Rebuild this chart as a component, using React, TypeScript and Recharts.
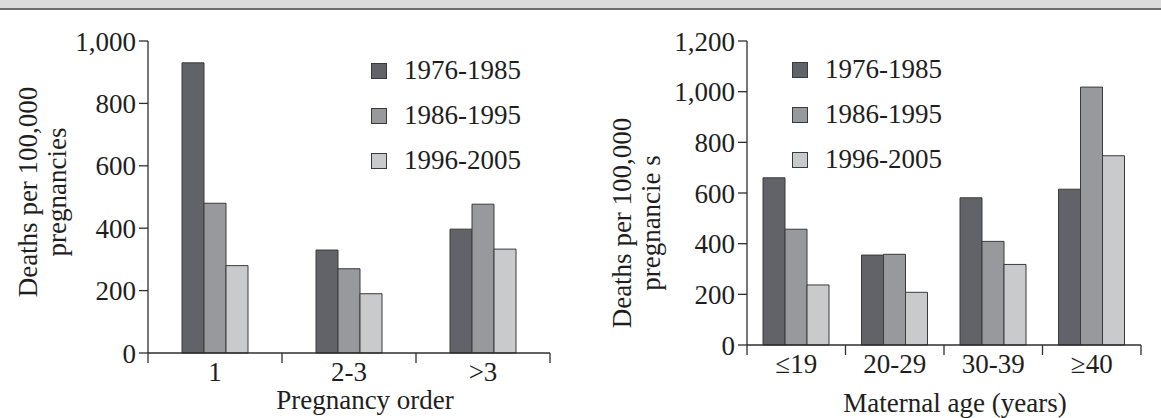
import { Bar, BarChart, XAxis, YAxis } from "recharts";

const orderCategories = ["1", "2-3", ">3"];
const order1976 = [930, 330, 397];
const order1986 = [480, 270, 477];
const order1996 = [280, 190, 333];
const orderTicks = [0, 200, 400, 600, 800, 1000];

const ageCategories = ["≤19", "20-29", "30-39", "≥40"];
const age1976 = [660, 355, 581, 615];
const age1986 = [457, 358, 409, 1018];
const age1996 = [237, 208, 318, 747];
const ageTicks = [0, 200, 400, 600, 800, 1000, 1200];

const periods = ["1976-1985", "1986-1995", "1996-2005"];
const fills = ["#626368", "#98999d", "#c9cacc"];

const FONT = '"Liberation Serif", "Times New Roman", serif';
const INK = "#1e1e1e";
const LINE = "#2e2e2e";

const fmt = (v: number) => v.toLocaleString("en-US");

function buildRows(cats: string[], a: number[], b: number[], c: number[]) {
  return cats.map((name, i) => ({ name, p1: a[i], p2: b[i], p3: c[i] }));
}

const orderData = buildRows(orderCategories, order1976, order1986, order1996);
const ageData = buildRows(ageCategories, age1976, age1986, age1996);

// category ticks sit on the band edges, labels in the middle
function makeBandTick(band: number, count: number, baseline: number) {
  return function BandTick(props: any) {
    const { x, y, payload, index } = props;
    const left = x - band / 2;
    const right = x + band / 2;
    return (
      <g>
        <line x1={left} x2={left} y1={y} y2={y + 10} stroke={LINE} strokeWidth={1.3} />
        {index === count - 1 && (
          <line x1={right} x2={right} y1={y} y2={y + 10} stroke={LINE} strokeWidth={1.3} />
        )}
        <text x={x} y={y + baseline} textAnchor="middle" fontFamily={FONT} fontSize={27} fill={INK}>
          {payload.value}
        </text>
      </g>
    );
  };
}

function PeriodLegend({ left, top }: { left: number; top: number }) {
  return (
    <div style={{ position: "absolute", left, top, fontFamily: FONT, fontSize: 27, color: INK }}>
      {periods.map((p, i) => (
        <div key={p} style={{ display: "flex", alignItems: "center", height: 45 }}>
          <span
            style={{
              width: 14,
              height: 14,
              background: fills[i],
              border: "1px solid #3a3a3a",
              marginRight: 17,
              display: "inline-block",
            }}
          />
          <span style={{ lineHeight: "27px" }}>{p}</span>
        </div>
      ))}
    </div>
  );
}

function YLabel({ x1, x2, cy, lines }: { x1: number; x2: number; cy: number; lines: string[] }) {
  return (
    <g fontFamily={FONT} fontSize={27} fill={INK}>
      <text transform={`translate(${x1},${cy}) rotate(-90)`} textAnchor="middle">
        {lines[0]}
      </text>
      <text transform={`translate(${x2},${cy}) rotate(-90)`} textAnchor="middle">
        {lines[1]}
      </text>
    </g>
  );
}

function XLabel({ cx, y, text }: { cx: number; y: number; text: string }) {
  return (
    <text x={cx} y={y} textAnchor="middle" fontFamily={FONT} fontSize={27} fill={INK}>
      {text}
    </text>
  );
}

type PanelProps = {
  left: number;
  width: number;
  data: { name: string; p1: number; p2: number; p3: number }[];
  ticks: number[];
  plotLeft: number;
  plotRight: number;
  plotBottom: number;
  tickBaseline: number;
  legendLeft: number;
  legendTop: number;
  yLabel: { x1: number; x2: number; cy: number; lines: string[] };
  xLabel: { cx: number; y: number; text: string };
};

function Panel(p: PanelProps) {
  const height = 418;
  const top = 41;
  const plotW = p.width - p.plotLeft - p.plotRight;
  const bandW = plotW / p.data.length;
  const Tick = makeBandTick(bandW, p.data.length, p.tickBaseline);
  const max = p.ticks[p.ticks.length - 1];
  return (
    <div style={{ position: "absolute", left: p.left, top: 0, width: p.width, height }}>
      <BarChart
        width={p.width}
        height={height}
        data={p.data}
        margin={{ top, right: p.plotRight, bottom: 0, left: 0 }}
        barGap={0}
        barSize={22}
      >
        <XAxis
          dataKey="name"
          height={height - p.plotBottom}
          tickLine={false}
          tickSize={0}
          tickMargin={0}
          interval={0}
          axisLine={{ stroke: LINE, strokeWidth: 1.3 }}
          tick={<Tick />}
          label={{ content: () => <XLabel {...p.xLabel} /> }}
        />
        <XAxis
          xAxisId="top"
          dataKey="name"
          orientation="top"
          height={0}
          tick={false}
          tickLine={false}
          axisLine={{ stroke: LINE, strokeWidth: 1.3 }}
        />
        <YAxis
          width={p.plotLeft}
          domain={[0, max]}
          ticks={p.ticks}
          interval={0}
          tickFormatter={fmt}
          tickSize={9}
          tickMargin={3}
          tickLine={{ stroke: LINE, strokeWidth: 1.3 }}
          axisLine={{ stroke: LINE, strokeWidth: 1.3 }}
          tick={{ fontFamily: FONT, fontSize: 27, fill: INK }}
          label={{ content: () => <YLabel {...p.yLabel} /> }}
        />
        <YAxis
          yAxisId="right"
          orientation="right"
          width={0}
          domain={[0, max]}
          tick={false}
          tickLine={false}
          axisLine={{ stroke: LINE, strokeWidth: 1.3 }}
        />
        <Bar dataKey="p1" name={periods[0]} fill={fills[0]} stroke="#3a3a3a" strokeWidth={1} isAnimationActive={false} />
        <Bar dataKey="p2" name={periods[1]} fill={fills[1]} stroke="#3a3a3a" strokeWidth={1} isAnimationActive={false} />
        <Bar dataKey="p3" name={periods[2]} fill={fills[2]} stroke="#3a3a3a" strokeWidth={1} isAnimationActive={false} />
      </BarChart>
      <PeriodLegend left={p.legendLeft} top={p.legendTop} />
    </div>
  );
}

export default function App() {
  return (
    <div style={{ position: "relative", width: 1161, height: 418, background: "#fff", overflow: "hidden" }}>
      <style>{`body{margin:0}`}</style>
      <div
        style={{
          position: "absolute",
          left: 0,
          top: 0,
          width: 1161,
          height: 8,
          background: "#dcdcdc",
          borderBottom: "2px solid #6e6e6e",
        }}
      />
      <Panel
        left={0}
        width={580}
        data={orderData}
        ticks={orderTicks}
        plotLeft={148}
        plotRight={30}
        plotBottom={353}
        tickBaseline={28}
        legendLeft={371}
        legendTop={48}
        yLabel={{ x1: 37, x2: 66, cy: 192, lines: ["Deaths per 100,000", "pregnancies"] }}
        xLabel={{ cx: 365, y: 409, text: "Pregnancy order" }}
      />
      <Panel
        left={580}
        width={581}
        data={ageData}
        ticks={ageTicks}
        plotLeft={167}
        plotRight={20}
        plotBottom={345}
        tickBaseline={28}
        legendLeft={212}
        legendTop={47}
        yLabel={{ x1: 51, x2: 80, cy: 223, lines: ["Deaths per 100,000", "pregnancie s"] }}
        xLabel={{ cx: 375, y: 412, text: "Maternal age (years)" }}
      />
    </div>
  );
}
